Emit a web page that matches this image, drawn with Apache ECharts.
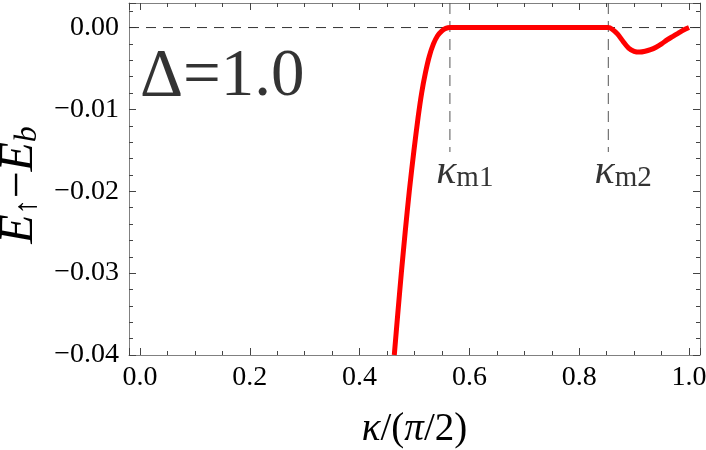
<!DOCTYPE html>
<html>
<head>
<meta charset="utf-8">
<script src="https://cdn.jsdelivr.net/npm/echarts@6/dist/echarts.min.js"></script>
<style>
html,body{margin:0;padding:0;background:#fff;}
#chart{width:706px;height:450px;}
</style>
</head>
<body>
<div id="chart"></div>
<script>
// ---- data ----
var kappa = [0.4632, 0.4695, 0.4760, 0.4830, 0.4905, 0.4990, 0.5065, 0.5130, 0.5200, 0.5270, 0.5345, 0.5420, 0.5500, 0.5570, 0.5645,
             0.60, 0.65, 0.70, 0.75, 0.80, 0.853, 0.860, 0.870, 0.880, 0.890, 0.900, 0.910, 0.920, 0.930,
             0.940, 0.950, 0.960, 0.970, 0.980, 0.990, 1.0];
var energy = [-0.0400, -0.0350, -0.0300, -0.0250, -0.0200, -0.0150, -0.0110, -0.0080, -0.0055, -0.0035, -0.0020, -0.0010, -0.0004, -0.0001, 0,
              0, 0, 0, 0, 0, 0, -0.0002, -0.0008, -0.0017, -0.0025, -0.0029, -0.0030, -0.0029, -0.0027,
              -0.0024, -0.0020, -0.0015, -0.0011, -0.0007, -0.0003, 0];
var kappaMarks = [0.5645, 0.853];
var markLabels = ['m1', 'm2'];
var xRange = [-0.02, 1.02];
var yRange = [-0.04, 0.003];
var yTickStep = 0.01;
var deltaText = 'Δ=1.0';

var FONT = '"Liberation Serif", "DejaVu Serif", serif';
var AX = '#808080';
var TK = '#444';

function fmtY(v) {
  if (Math.abs(v / yTickStep - Math.round(v / yTickStep)) > 1e-6) return '';
  if (Math.abs(v) < 1e-12) return '0.00';
  var s = Math.abs(v).toFixed(2);
  return (v < 0 ? '\u2212' : '') + s;
}
function fmtX(v) {
  if (Math.abs(v * 5 - Math.round(v * 5)) > 1e-6) return '';
  return (Math.abs(v) < 1e-12 ? 0 : v).toFixed(1);
}

var curve = kappa.map(function (k, i) { return [k, energy[i]]; });

var series = [];
// horizontal dashed line at 0
series.push({
  type: 'line', data: [[xRange[0], 0], [xRange[1], 0]], showSymbol: false, silent: true,
  lineStyle: { color: '#333', width: 1, type: [10, 7] }, z: 1
});
// vertical dashed lines
kappaMarks.forEach(function (k) {
  series.push({
    type: 'line', data: [[k, yRange[1]], [k, -0.0152]], showSymbol: false, silent: true,
    lineStyle: { color: '#555', width: 1, type: [11, 7] }, z: 1
  });
});
// main curve
series.push({
  type: 'line', data: curve, showSymbol: false, smooth: 0.25,
  lineStyle: { color: '#ff0000', width: 5, cap: 'butt', join: 'round' }, z: 5
});
// labels for kappa marks
series.push({
  type: 'scatter', symbolSize: 0, silent: true,
  data: kappaMarks.map(function (k, i) { return { value: [k - 0.025, -0.0176], name: markLabels[i] }; }),
  label: {
    show: true, position: 'right', distance: 0,
    formatter: function (p) { return '{k|κ}{s|' + p.name + '}'; },
    rich: {
      k: { fontFamily: FONT, fontStyle: 'italic', fontSize: 42, color: '#000' },
      s: { fontFamily: FONT, fontSize: 29, color: '#000', verticalAlign: 'bottom', lineHeight: 14 }
    }
  }
});
// delta text
series.push({
  type: 'scatter', symbolSize: 0, silent: true,
  data: [[0.0, -0.0061]],
  label: {
    show: true, position: 'right', distance: 0, formatter: deltaText,
    fontFamily: FONT, fontSize: 67, color: '#000'
  }
});

var baseX = {
  type: 'value', min: xRange[0], max: xRange[1], splitNumber: 5,
  axisLine: { show: true, onZero: false, lineStyle: { color: AX, width: 1 } },
  axisTick: { show: true, inside: true, length: 7, lineStyle: { color: TK } },
  minorTick: { show: true, splitNumber: 4, length: 4, lineStyle: { color: TK } },
  splitLine: { show: false }, minorSplitLine: { show: false }
};
var baseY = {
  type: 'value', min: yRange[0], max: yRange[1], interval: yTickStep,
  axisLine: { show: true, onZero: false, lineStyle: { color: AX, width: 1 } },
  axisTick: { show: true, inside: true, length: 7, lineStyle: { color: TK } },
  minorTick: { show: true, splitNumber: 5, length: 4, lineStyle: { color: TK } },
  splitLine: { show: false }, minorSplitLine: { show: false }
};

var option = {
  animation: false,
  backgroundColor: '#fff',
  grid: { left: 129, right: 6, top: 3, bottom: 95, containLabel: false, outerBoundsMode: 'none' },
  xAxis: [
    Object.assign({}, baseX, {
      position: 'bottom',
      axisLabel: { formatter: fmtX, fontFamily: FONT, fontSize: 28, color: '#000', margin: 9, showMinLabel: false, showMaxLabel: false },
      name: '{i|κ}{r|/(}{i|π}{r|/2)}', nameLocation: 'middle', nameGap: 55,
      nameTextStyle: {
        rich: {
          i: { fontFamily: FONT, fontStyle: 'italic', fontSize: 39, color: '#000' },
          r: { fontFamily: FONT, fontSize: 39, color: '#000' }
        }
      }
    }),
    Object.assign({}, baseX, { position: 'top', axisLabel: { show: false } })
  ],
  yAxis: [
    Object.assign({}, baseY, {
      position: 'left',
      axisLabel: { formatter: fmtY, fontFamily: FONT, fontSize: 28, color: '#000', margin: 10, showMaxLabel: false },
      name: '{e|E}{s|↑}{m|−}{e|E}{s|b}', nameLocation: 'middle', nameRotate: 90, nameGap: 78,
      nameTextStyle: {
        padding: [0, 0, 0, -12],
        rich: {
          e: { fontFamily: FONT, fontStyle: 'italic', fontSize: 48, color: '#000' },
          m: { fontFamily: FONT, fontSize: 48, color: '#000' },
          s: { fontFamily: FONT, fontStyle: 'italic', fontSize: 32, color: '#000', verticalAlign: 'bottom', lineHeight: 14 }
        }
      }
    }),
    Object.assign({}, baseY, { position: 'right', axisLabel: { show: false } })
  ],
  series: series
};

var chart = echarts.init(document.getElementById('chart'), null, { renderer: 'canvas' });
chart.setOption(option);
</script>
</body>
</html>
